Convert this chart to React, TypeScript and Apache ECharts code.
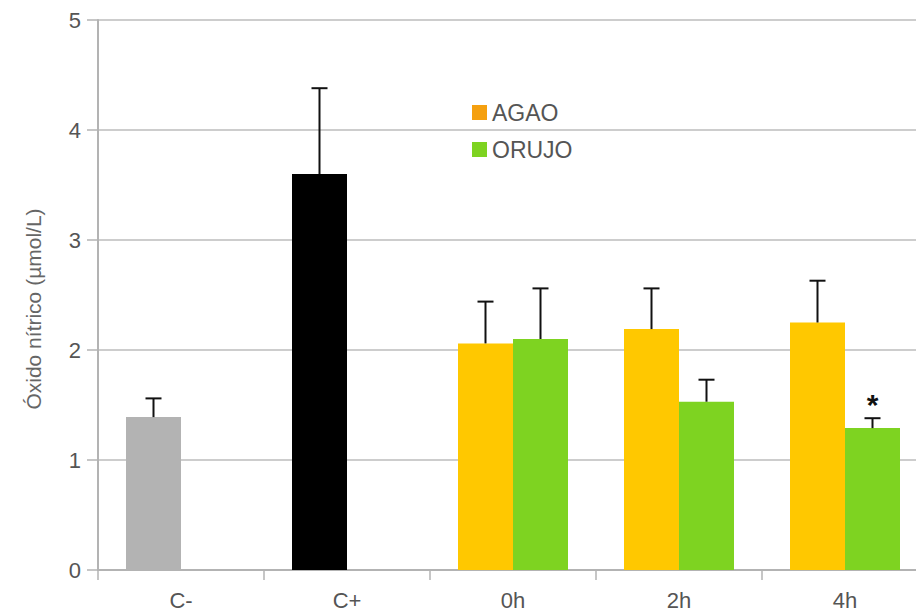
import { useEffect, useRef } from 'react';
import * as echarts from 'echarts';

// ---- data ----
const categories = ['C-', 'C+', '0h', '2h', '4h'];
const agaoMeans = [1.39, 3.6, 2.06, 2.19, 2.25];
const agaoUpper = [1.56, 4.38, 2.44, 2.56, 2.63];
const orujoMeans: (number | null)[] = [null, null, 2.1, 1.53, 1.29];
const orujoUpper: (number | null)[] = [null, null, 2.56, 1.73, 1.38];
const orujoMarks = ['', '', '', '', '*'];
const seriesNames = ['AGAO', 'ORUJO'];
const yTitle = 'Óxido nítrico (µmol/L)';

// ---- styles ----
const agaoBarColors = ['#b3b3b3', '#000000', '#ffc800', '#ffc800', '#ffc800'];
const ORANGE = '#ffc800';
const LEGEND_ORANGE = '#f5a00f';
const GREEN = '#7ed321';
const BAR_W = 55;
const FONT = '"Liberation Sans", Arial, sans-serif';

export default function App() {
  const ref = useRef<HTMLDivElement>(null);

  useEffect(() => {
    if (!ref.current) return;
    const chart = echarts.init(ref.current, undefined, { renderer: 'svg' });

    const errData: number[][] = [];
    agaoUpper.forEach((u, i) => {
      if (u != null) errData.push([i, agaoMeans[i], u, 0]);
    });
    orujoUpper.forEach((u, i) => {
      if (u != null && orujoMeans[i] != null) errData.push([i, orujoMeans[i] as number, u, 1]);
    });

    chart.setOption({
      animation: false,
      textStyle: { fontFamily: FONT },
      grid: { left: 98, top: 20, right: 12, bottom: 43, containLabel: false },
      legend: {
        orient: 'vertical',
        left: 467,
        top: 96,
        itemWidth: 15,
        itemHeight: 15,
        itemGap: 14,
        icon: 'rect',
        textStyle: { fontSize: 23, color: '#555', fontFamily: FONT },
        data: [
          { name: seriesNames[0], itemStyle: { color: LEGEND_ORANGE } },
          { name: seriesNames[1], itemStyle: { color: GREEN } },
        ],
      },
      xAxis: {
        type: 'category',
        data: categories,
        axisLine: { lineStyle: { color: '#b3b3b3', width: 2 } },
        axisTick: { show: true, length: 10, lineStyle: { color: '#b3b3b3', width: 1.5 } },
        axisLabel: { fontSize: 22, color: '#555', margin: 19, fontFamily: FONT },
      },
      yAxis: {
        type: 'value',
        min: 0,
        max: 5,
        interval: 1,
        axisLine: { show: true, lineStyle: { color: '#b3b3b3', width: 2 } },
        axisTick: { show: true, length: 11, lineStyle: { color: '#b3b3b3', width: 1.5 } },
        axisLabel: { fontSize: 22, color: '#555', margin: 17, fontFamily: FONT },
        splitLine: { lineStyle: { color: '#bcbcbc', width: 1.5 } },
      },
      graphic: [
        {
          type: 'text',
          x: 33,
          y: 309,
          rotation: Math.PI / 2,
          style: {
            text: yTitle,
            fontSize: 21,
            fill: '#666',
            fontFamily: FONT,
            align: 'center',
            verticalAlign: 'middle',
          },
        },
      ],
      series: [
        {
          name: seriesNames[0],
          type: 'bar',
          barWidth: BAR_W,
          barGap: '0%',
          itemStyle: { color: ORANGE },
          data: agaoMeans.map((v, i) => ({ value: v, itemStyle: { color: agaoBarColors[i] } })),
        },
        {
          name: seriesNames[1],
          type: 'bar',
          barWidth: BAR_W,
          barGap: '0%',
          itemStyle: { color: GREEN },
          data: orujoMeans.map((v) => (v == null ? '-' : v)),
        },
        {
          type: 'custom',
          z: 10,
          clip: false,
          silent: true,
          data: errData,
          renderItem: (_params: any, api: any) => {
            const i = api.value(0);
            const lo = api.value(1);
            const hi = api.value(2);
            const s = api.value(3);
            const base = api.coord([i, lo]);
            const top = api.coord([i, hi]);
            const x = base[0] + (s === 0 ? -BAR_W / 2 : BAR_W / 2);
            const children: any[] = [
              {
                type: 'line',
                shape: { x1: x, y1: base[1], x2: x, y2: top[1] },
                style: { stroke: '#111', lineWidth: 2 },
              },
              {
                type: 'line',
                shape: { x1: x - 8, y1: top[1], x2: x + 8, y2: top[1] },
                style: { stroke: '#111', lineWidth: 2 },
              },
            ];
            const mark = s === 1 ? orujoMarks[i] : '';
            if (mark) {
              children.push({
                type: 'text',
                x: x,
                y: top[1] - 14,
                style: {
                  text: mark,
                  fontSize: 30,
                  fontWeight: 'bold',
                  fill: '#111',
                  fontFamily: FONT,
                  align: 'center',
                  verticalAlign: 'middle',
                },
              });
            }
            return { type: 'group', children };
          },
        },
      ],
    });

    return () => chart.dispose();
  }, []);

  return (
    <div
      ref={ref}
      style={{ position: 'fixed', left: 0, top: 0, width: 940, height: 613, background: '#fff' }}
    />
  );
}
